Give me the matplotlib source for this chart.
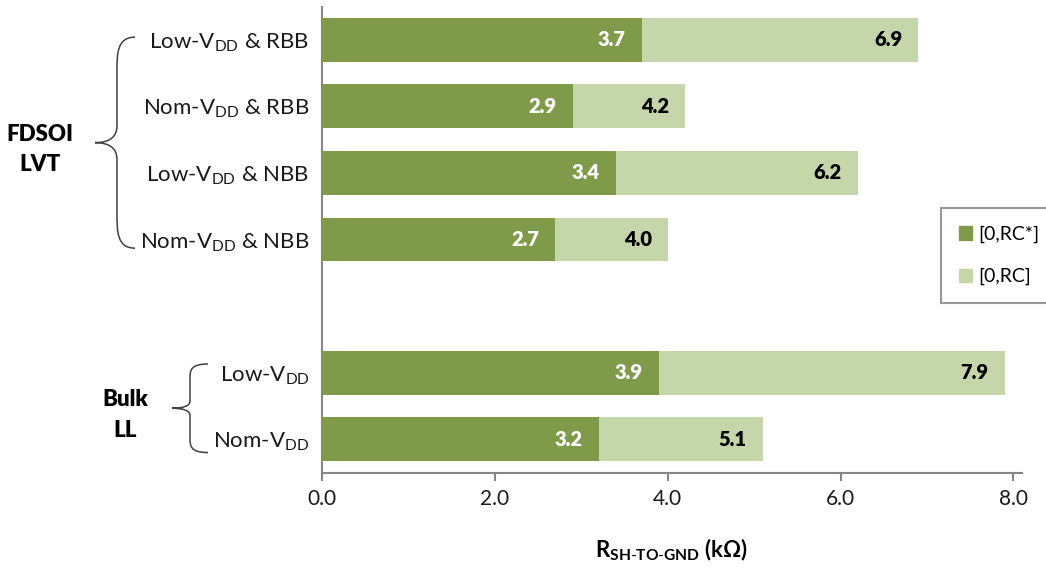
import matplotlib
matplotlib.use("Agg")
import matplotlib.pyplot as plt
import matplotlib.transforms as mtransforms
from matplotlib.path import Path
from matplotlib.patches import PathPatch, Patch

plt.rcParams['font.family'] = ['Lato', 'DejaVu Sans']
plt.rcParams['mathtext.fontset'] = 'custom'
plt.rcParams['mathtext.rm'] = 'Lato'
plt.rcParams['mathtext.bf'] = 'Lato:bold'

# Categories top to bottom; None leaves a blank slot between the groups
categories = [
    r"Low-V$_\mathregular{DD}$ & RBB",
    r"Nom-V$_\mathregular{DD}$ & RBB",
    r"Low-V$_\mathregular{DD}$ & NBB",
    r"Nom-V$_\mathregular{DD}$ & NBB",
    None,
    r"Low-V$_\mathregular{DD}$",
    r"Nom-V$_\mathregular{DD}$",
]
rc_star = [3.7, 2.9, 3.4, 2.7, None, 3.9, 3.2]   # [0,RC*]
rc_full = [6.9, 4.2, 6.2, 4.0, None, 7.9, 5.1]   # [0,RC]
series_names = ["[0,RC*]", "[0,RC]"]
x_ticks = [0.0, 2.0, 4.0, 6.0, 8.0]
groups = [("FDSOI\nLVT", 0, 3), ("Bulk\nLL", 5, 6)]

DARK = "#7F9A48"
LIGHT = "#C5D6AB"
AXIS = "#868686"

W, H = 1046, 569
fig = plt.figure(figsize=(W / 100, H / 100), dpi=100)
ax = fig.add_axes([322 / W, (H - 472.5) / H, (1022 - 322) / W, (472.5 - 6.5) / H])

rows = [i for i, c in enumerate(categories) if c is not None]
bar_h = 0.66
ax.barh(rows, [rc_full[i] for i in rows], height=bar_h, color=LIGHT, zorder=2)
ax.barh(rows, [rc_star[i] for i in rows], height=bar_h, color=DARK, zorder=3)

pad = mtransforms.offset_copy(ax.transData, fig=fig, x=-16, y=0, units='dots')
for i in rows:
    ax.text(rc_star[i], i, f"{rc_star[i]:.1f}", transform=pad, ha='right', va='center',
            color='white', fontsize=14.5, fontweight='heavy', zorder=4)
    ax.text(rc_full[i], i, f"{rc_full[i]:.1f}", transform=pad, ha='right', va='center',
            color='black', fontsize=14.5, fontweight='heavy', zorder=4)

ax.set_ylim(len(categories) - 0.5, -0.5)
ax.set_xlim(0, 8.1)
ax.set_yticks(rows)
ax.set_yticklabels([categories[i] for i in rows], fontsize=16, color='#1a1a1a')
ax.tick_params(axis='y', length=0, pad=9)
ax.set_xticks(x_ticks)
ax.set_xticklabels([f"{v:.1f}" for v in x_ticks], fontsize=15, color='#1a1a1a')
ax.tick_params(axis='x', direction='out', length=6, width=1.5, color=AXIS, pad=6)

for s in ("top", "right"):
    ax.spines[s].set_visible(False)
for s in ("left", "bottom"):
    ax.spines[s].set_color(AXIS)
    ax.spines[s].set_linewidth(1.5)

ax.set_xlabel(r"R$_\mathregular{SH\text{-}TO\text{-}GND}$ (k$\mathregular{\Omega}$)",
              fontsize=16, fontweight='bold', labelpad=20)

# Legend
handles = [Patch(color=DARK), Patch(color=LIGHT)]
leg = fig.legend(handles, series_names, loc='upper left',
                 bbox_to_anchor=(941 / W, 1 - 208 / H), fontsize=14,
                 frameon=True, fancybox=False, handlelength=0.7, handleheight=0.7,
                 handletextpad=0.3, labelspacing=1.3, borderpad=0.9,
                 borderaxespad=0)
leg.get_frame().set_edgecolor('#7f7f7f')
leg.get_frame().set_linewidth(1.5)

# Curly braces grouping the categories
def brace(x_tip, x_mid, x_end, y0, y1, trans):
    ym = (y0 + y1) / 2
    d = (y1 - y0) * 0.08
    verts = [
        (x_end, y0),
        (x_mid, y0), (x_mid, y0 + d), (x_mid, y0 + 2 * d),
        (x_mid, ym - d),
        (x_mid, ym), (x_tip, ym),
        (x_mid, ym), (x_mid, ym + d),
        (x_mid, y1 - 2 * d),
        (x_mid, y1 - d), (x_mid, y1), (x_end, y1),
    ]
    codes = [Path.MOVETO,
             Path.CURVE4, Path.CURVE4, Path.CURVE4,
             Path.LINETO,
             Path.CURVE3, Path.CURVE3,
             Path.CURVE3, Path.CURVE3,
             Path.LINETO,
             Path.CURVE4, Path.CURVE4, Path.CURVE4]
    return PathPatch(Path(verts, codes), transform=trans, fill=False,
                     edgecolor='#404040', linewidth=1.1, clip_on=False)

btrans = mtransforms.blended_transform_factory(fig.transFigure, ax.transData)
brace_geom = [(95 / W, 117 / W, 135 / W, -0.04, 3.13),
              (172 / W, 190 / W, 208 / W, -0.13 + 5, 6.2)]
label_x = [40 / W, 125 / W]
for (name, g0, g1), (xt, xm, xe, y0, y1), lx in zip(groups, brace_geom, label_x):
    ax.add_patch(brace(xt, xm, xe, y0, y1, btrans))
    fig.text(lx, 0, name, transform=btrans, ha='center', va='center',
             fontsize=16, fontweight='heavy', linespacing=1.55)
    fig.texts[-1].set_y((y0 + y1) / 2 + 0.1)

fig.savefig("out.png", dpi=100, facecolor='white')
